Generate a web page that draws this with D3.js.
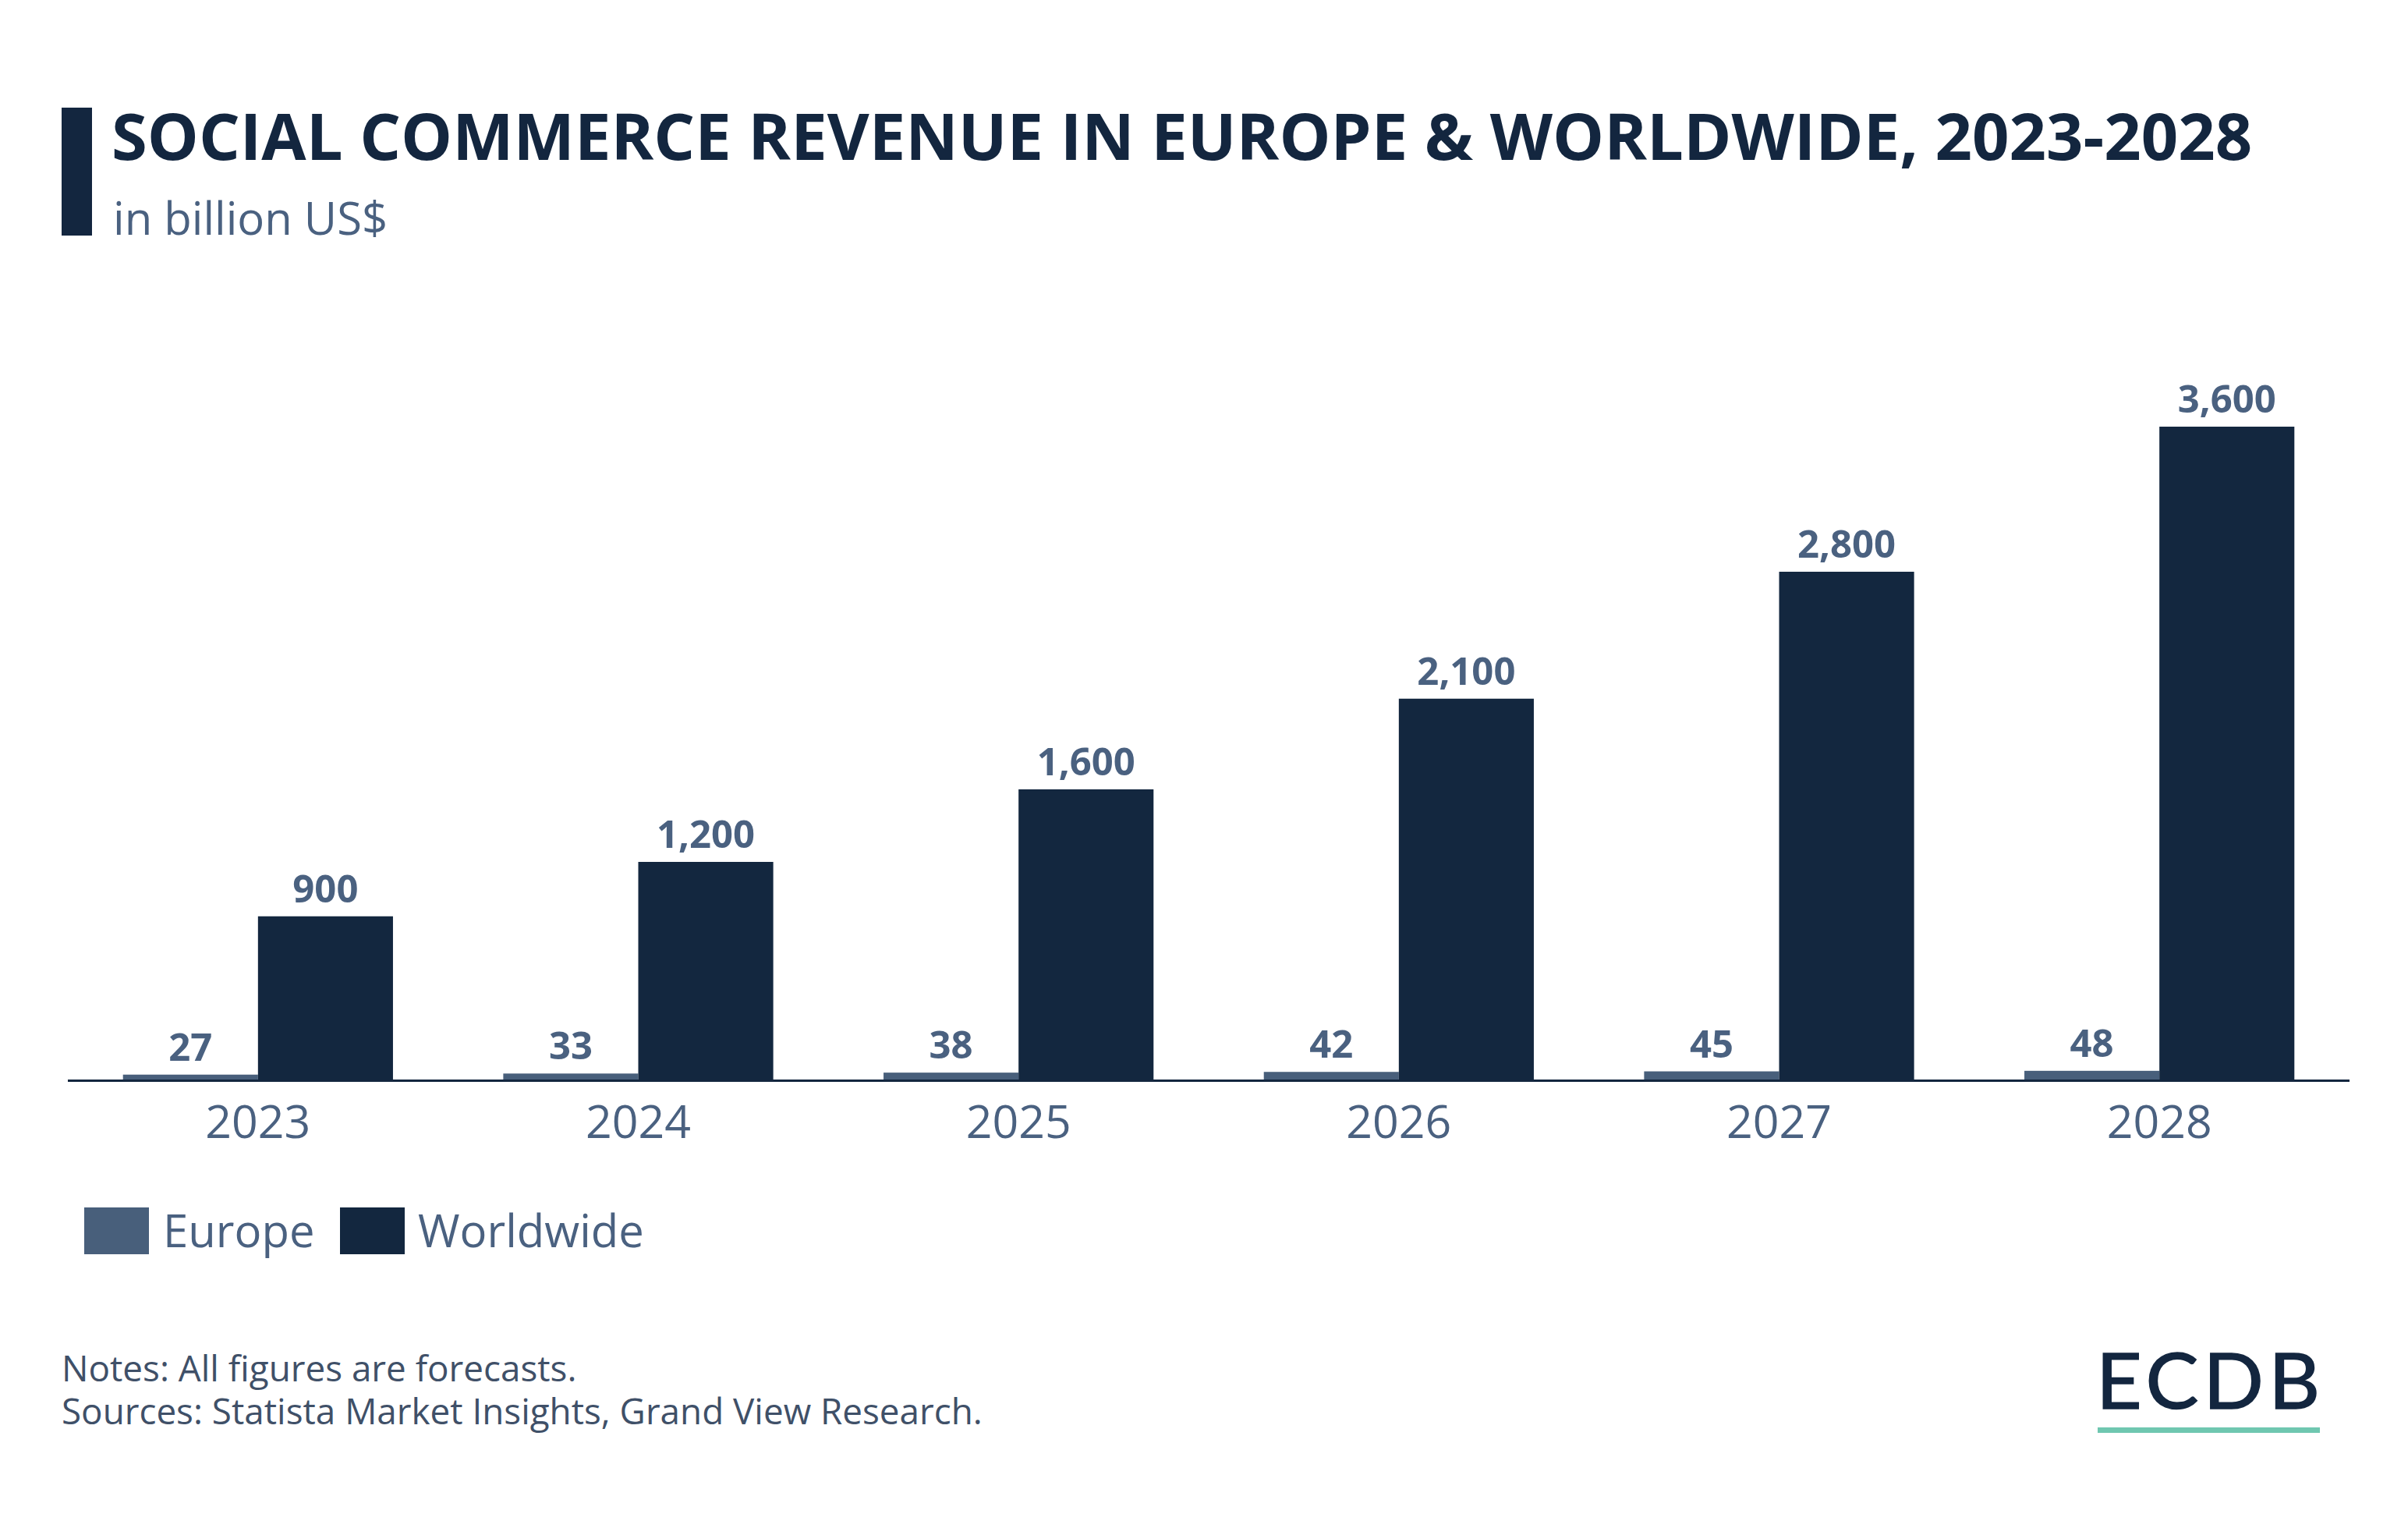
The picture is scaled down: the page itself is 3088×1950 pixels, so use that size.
<!DOCTYPE html>
<html>
<head>
<meta charset="utf-8">
<script src="https://cdn.jsdelivr.net/npm/d3@7"></script>
<style>
  html, body { margin: 0; padding: 0; background: #ffffff; }
  svg { display: block; }
</style>
</head>
<body>
<svg id="chart" width="3088" height="1950"></svg>
<script>
// ---- Data ----
const years = ["2023", "2024", "2025", "2026", "2027", "2028"];
const europe = [27, 33, 38, 42, 45, 48];
const worldwide = [900, 1200, 1600, 2100, 2800, 3600];
const seriesNames = ["Europe", "Worldwide"];

const titleText = "SOCIAL COMMERCE REVENUE IN EUROPE & WORLDWIDE, 2023-2028";
const subtitleText = "in billion US$";
const footerLines = ["Notes: All figures are forecasts.", "Sources: Statista Market Insights, Grand View Research."];

// ---- Styles ----
const colors = { Europe: "#485f7b", Worldwide: "#13273f" };
const textColor = "#4a6180";
const titleColor = "#13263f";
const font = "'Open Sans', 'Noto Sans', sans-serif";

const svg = d3.select("#chart");
svg.append("rect").attr("width", 3088).attr("height", 1950).attr("fill", "#fff");

// Title block
svg.append("rect").attr("x", 79).attr("y", 138).attr("width", 39).attr("height", 164).attr("fill", titleColor);
const title = svg.append("text")
  .attr("x", 143).attr("y", 205)
  .attr("font-family", font).attr("font-weight", 700).attr("font-size", 81)
  .attr("fill", titleColor).text(titleText);
const tw = title.node().getComputedTextLength();
title.attr("font-size", 81 * 2746 / tw);

svg.append("text")
  .attr("x", 145).attr("y", 301)
  .attr("font-family", font).attr("font-weight", 400).attr("font-size", 58)
  .attr("fill", textColor).text(subtitleText);

// ---- Chart ----
const baseY = 1384;
const x0 = d3.scaleBand().domain(years).range([87, 3013]).paddingInner(0.29).paddingOuter(0.145);
const x1 = d3.scaleBand().domain(seriesNames).range([0, x0.bandwidth()]).padding(0);
const y = d3.scaleLinear().domain([0, 3600]).range([baseY, 547]);

const rows = years.map((yr, i) => ({ year: yr, values: [
  { key: "Europe", value: europe[i] },
  { key: "Worldwide", value: worldwide[i] }
]}));

const groups = svg.append("g").selectAll("g").data(rows).join("g")
  .attr("transform", d => `translate(${x0(d.year)},0)`);

groups.selectAll("rect").data(d => d.values).join("rect")
  .attr("x", d => x1(d.key))
  .attr("y", d => y(d.value))
  .attr("width", x1.bandwidth())
  .attr("height", d => baseY - y(d.value))
  .attr("fill", d => colors[d.key]);

groups.selectAll("text.val").data(d => d.values).join("text")
  .attr("class", "val")
  .attr("x", d => x1(d.key) + x1.bandwidth() / 2)
  .attr("y", d => y(d.value) - 18)
  .attr("text-anchor", "middle")
  .attr("font-family", font).attr("font-weight", 700).attr("font-size", 49)
  .attr("fill", textColor)
  .text(d => d3.format(",")(d.value));

// Axis
const xAxis = d3.axisBottom(x0).tickSize(0).tickPadding(0);
const axisG = svg.append("g").attr("transform", `translate(0,${baseY})`).call(xAxis);
axisG.select(".domain").attr("stroke", titleColor).attr("stroke-width", 3)
  .attr("d", "M87,1.5H3013");
axisG.selectAll(".tick text")
  .attr("y", 75).attr("dy", 0)
  .attr("font-family", font).attr("font-weight", 400).attr("font-size", 59)
  .attr("fill", textColor);

// Legend
const legendItems = [
  { key: "Europe", x: 108, tx: 209 },
  { key: "Worldwide", x: 436, tx: 536 }
];
const lg = svg.append("g");
lg.selectAll("rect").data(legendItems).join("rect")
  .attr("x", d => d.x).attr("y", 1548).attr("width", 83).attr("height", 60)
  .attr("fill", d => colors[d.key]);
lg.selectAll("text").data(legendItems).join("text")
  .attr("x", d => d.tx).attr("y", 1599)
  .attr("font-family", font).attr("font-size", 58).attr("fill", textColor)
  .text(d => d.key);

// Footer (one text block, two lines)
const footer = svg.append("text").attr("x", 79).attr("y", 1771)
  .attr("font-family", font).attr("font-size", 45.8).attr("fill", "#3f5068");
footer.selectAll("tspan").data(footerLines).join("tspan")
  .attr("x", 79).attr("dy", (d, i) => i === 0 ? 0 : 55)
  .text(d => d);

// Logo
const logoG = svg.append("g");
const logo = logoG.append("text").attr("x", 0).attr("y", 0)
  .attr("font-family", "Lato, 'DejaVu Sans', sans-serif").attr("font-weight", 400)
  .attr("font-size", 99).attr("fill", titleColor)
  .attr("stroke", titleColor).attr("stroke-width", 1.5)
  .attr("letter-spacing", 6)
  .text("ECDB");
const lw = logo.node().getComputedTextLength() - 6;
logoG.attr("transform", `translate(2688,1806) scale(${(2975 - 2688) / lw},1)`);
svg.append("rect").attr("x", 2690).attr("y", 1830).attr("width", 285).attr("height", 7).attr("fill", "#6fc7b0");
</script>
</body>
</html>
